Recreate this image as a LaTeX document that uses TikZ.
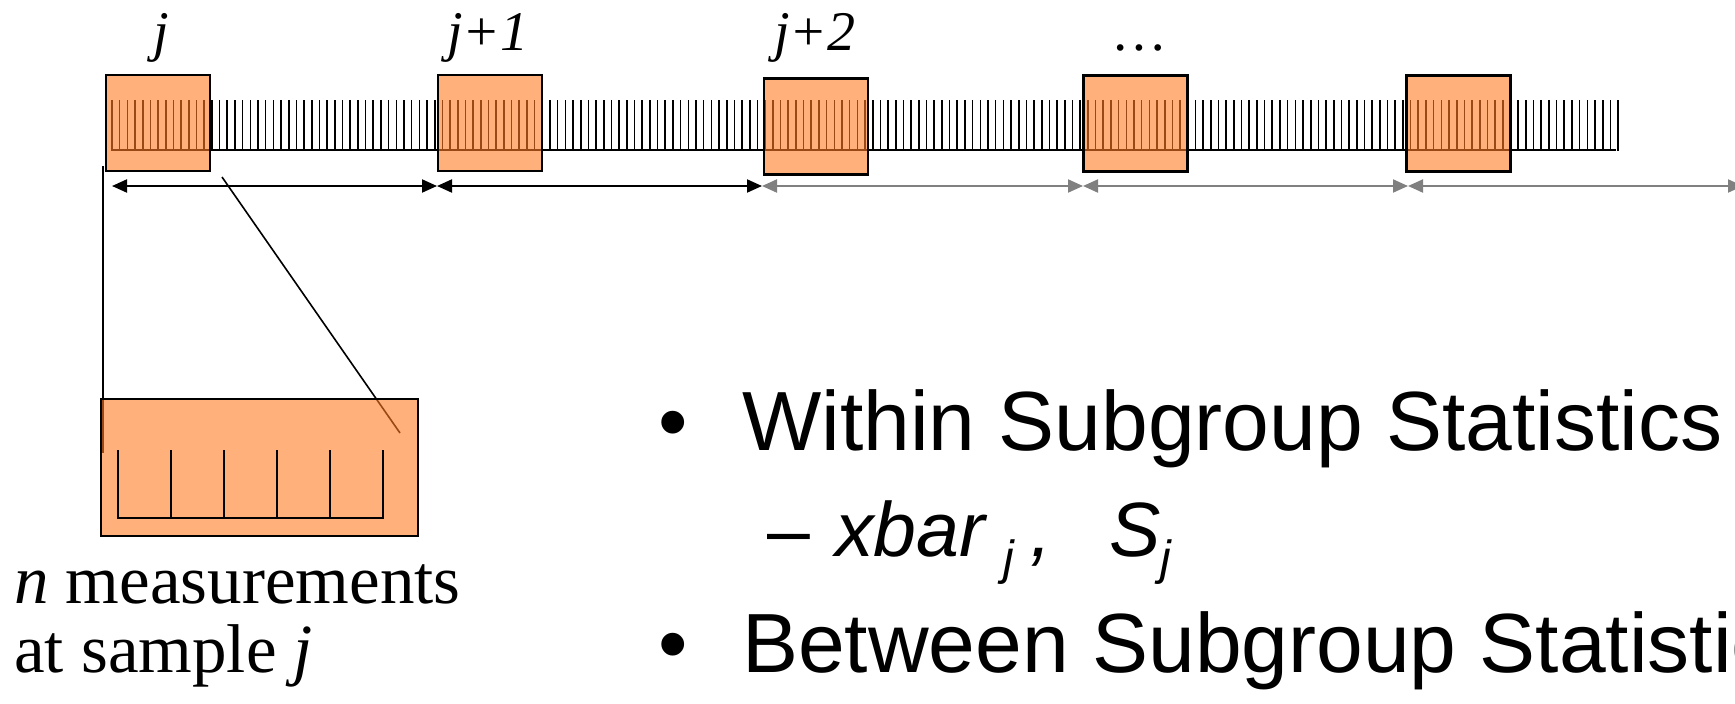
\documentclass[tikz,border=0pt]{standalone}
\usepackage{fontspec}
\setmainfont{Liberation Serif}
\newfontfamily\arialf{Liberation Sans}
\usetikzlibrary{arrows.meta}
\definecolor{boxorange}{RGB}{255,123,35}
\definecolor{arrgray}{RGB}{128,128,128}
\begin{document}
\begin{tikzpicture}[x=1pt,y=-1pt,
  sample/.style={draw=black,line width=2.5pt,fill=boxorange,fill opacity=0.6,draw opacity=1,inner sep=0pt,minimum width=104pt,minimum height=96pt},
  tickln/.style={line width=1.6pt},
  dimblack/.style={{Triangle[length=15pt,width=13pt]}-{Triangle[length=15pt,width=13pt]},line width=2pt,black},
  dimgray/.style={{Triangle[length=15pt,width=13pt]}-{Triangle[length=15pt,width=13pt]},line width=2pt,arrgray},
  toplabel/.style={anchor=base,inner sep=0pt,font=\fontsize{56}{56}\selectfont\itshape},
  bigtext/.style={anchor=base west,inner sep=0pt,font=\arialf\fontsize{84}{84}\selectfont},
  times/.style={anchor=base west,inner sep=0pt,font=\fontsize{69}{69}\selectfont}]
\useasboundingbox (0,0) rectangle (1735,704);
% ruler
\foreach \i in {0,...,196}{
  \draw[tickln] ({112+\i*7.684},100) -- ({112+\i*7.684},151);
}
\draw[line width=2.6pt] (112,150) -- (1616,150);
% link lines (behind the enlarged box)
\coordinate (vtop) at (103,166);
\coordinate (vbot) at (103,453);
\coordinate (dtop) at (222,177);
\coordinate (dbot) at (400,433);
\draw[line width=1.6pt] (vtop) -- (vbot);
\draw[line width=1.6pt] (dtop) -- (dbot);
% sample boxes
\node[sample] (s1) at (158,123) {};
\node[sample] (s2) at (490,123) {};
\node[sample] (s3) at (816,126.5) {};
\node[sample] (s4) at (1135.5,123.5) {};
\node[sample] (s5) at (1458.5,123.5) {};
% labels
\node[toplabel] (l1) at (161,50) {j};
\node[toplabel,anchor=base west] (l2) at (447,50) {j+1};
\node[toplabel,anchor=base west] (l3) at (774,50) {j+2};
\node[toplabel] (l4) at (1140,50) {…};
% dimension arrows
\coordinate (a0) at (112,186);
\coordinate (a1) at (437,186);
\coordinate (a2) at (762,186);
\coordinate (a3) at (1083,186);
\coordinate (a4) at (1408,186);
\coordinate (a5) at (1743,186);
\draw[dimblack] (a0) -- (a1);
\draw[dimblack] (a1) -- (a2);
\draw[dimgray] (a2) -- (a3);
\draw[dimgray] (a3) -- (a4);
\draw[dimgray] (a4) -- (a5);
% enlarged sample
\node[sample,minimum width=317pt,minimum height=137pt] (big) at (259.5,467.5) {};
\draw[line width=2pt] (118,450) -- (118,518) -- (383,518) -- (383,450);
\foreach \x in {171,224,277,330}{
  \draw[line width=2pt] (\x,450) -- (\x,518);
}
\node[times] (m1) at (14,603) {\textit{n} measurements};
\node[times] (m2) at (14,672) {at sample \textit{j}};
% bullets
\node[bigtext] (b1) at (658,450) {•};
\node[bigtext] (t1) at (742,450) {Within Subgroup Statistics};
\node[anchor=base west,inner sep=0pt,font=\arialf\fontsize{77}{77}\selectfont] (t2) at (767,556)
  {–\hspace{0.33em}\textit{xbar}\hspace{0.2em}\raisebox{-18pt}{\fontsize{48}{48}\selectfont\textit{j}}\hspace{0.2em}\textit{,}\hspace{0.75em}\textit{S}\raisebox{-18pt}{\fontsize{48}{48}\selectfont\textit{j}}};
\node[bigtext] (b2) at (658,672) {•};
\node[bigtext] (t3) at (742,672) {Between Subgroup Statistics};
\end{tikzpicture}
\end{document}
